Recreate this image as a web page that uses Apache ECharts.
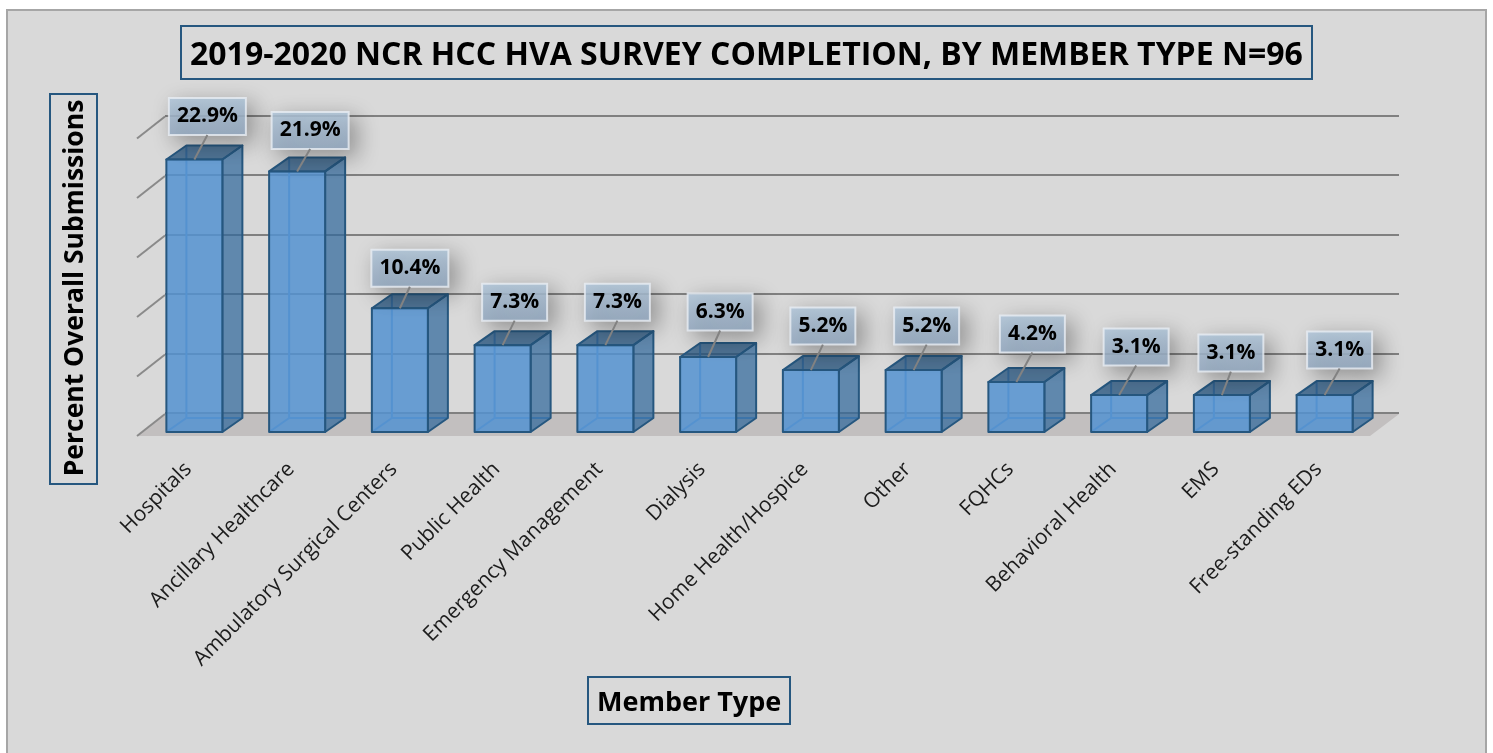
<!DOCTYPE html>
<html>
<head>
<meta charset="utf-8">
<title>HVA survey completion</title>
<script src="https://cdn.jsdelivr.net/npm/echarts@6/dist/echarts.min.js"></script>
<style>
html, body { margin: 0; padding: 0; background: #fff; overflow: hidden; }
#main { width: 1493px; height: 753px; }
</style>
</head>
<body>
<div id="main"></div>
<script>
var categories = ['Hospitals', 'Ancillary Healthcare', 'Ambulatory Surgical Centers', 'Public Health',
	'Emergency Management', 'Dialysis', 'Home Health/Hospice', 'Other', 'FQHCs',
	'Behavioral Health', 'EMS', 'Free-standing EDs'];
var percents = [22.9, 21.9, 10.4, 7.3, 7.3, 6.3, 5.2, 5.2, 4.2, 3.1, 3.1, 3.1];
var axisTicks = [0, 5, 10, 15, 20, 25];

var chartTitle = '2019-2020 NCR HCC HVA SURVEY COMPLETION, BY MEMBER TYPE N=96';
var xTitle = 'Member Type';
var yTitle = 'Percent Overall Submissions';

// callout placement, hand nudged per bar like the original
var calloutDx = [13, 13, 10, 12, 12, 12, 12, 13, 16, 17, 9, 15];
var calloutLift = [43, 41, 40, 43, 43, 45, 44, 44, 48, 48, 42, 45];

var FONT = '"Open Sans", sans-serif';
var EDGE = '#26577f';
var DEPTH_X = 20, DEPTH_Y = 14;   // bar depth
var WALL_X = 28, WALL_Y = 22;     // floor depth
var BAR_W = 56;

function poly(points, fill, stroke) {
	return {
		type: 'polygon',
		shape: {points: points},
		style: {fill: fill, stroke: stroke || 'none', lineWidth: 2, lineJoin: 'round'}
	};
}
function seg(x1, y1, x2, y2, color, w) {
	return {
		type: 'line',
		shape: {x1: x1, y1: y1, x2: x2, y2: y2},
		style: {stroke: color, lineWidth: w}
	};
}

function renderFloor(params, api) {
	var c = params.coordSys;
	var y0 = c.y + c.height;
	return poly([[c.x, y0], [c.x + WALL_X, y0 - WALL_Y], [c.x + c.width + WALL_X + 1, y0 - WALL_Y], [c.x + c.width, y0]], '#c2bfbf');
}

function renderTick(params, api) {
	var c = params.coordSys;
	var y = api.coord([0, api.value(0)])[1];
	return seg(c.x, y, c.x + WALL_X, y - WALL_Y, '#8a8a8a', 2);
}

function barCorner(api) {
	var top = api.coord([api.value(0), api.value(1)]);
	var base = api.coord([api.value(0), 0]);
	return {left: top[0] + 6 - BAR_W / 2, top: top[1] - 4, bottom: base[1] - 4};
}

function renderBar(params, api) {
	var b = barCorner(api);
	var l = b.left, r = l + BAR_W, t = b.top, y = b.bottom;
	var dx = DEPTH_X, dy = DEPTH_Y;
	return {
		type: 'group',
		children: [
			// see-through back edges first
			seg(l + dx, t - dy, l + dx, y - dy, '#5a92cc', 2),
			seg(l, y, l + dx, y - dy, '#5a92cc', 2),
			seg(l + dx, y - dy, r + dx, y - dy, '#5a92cc', 2),
			poly([[r, t], [r + dx, t - dy], [r + dx, y - dy], [r, y]], 'rgba(49,104,155,0.72)', EDGE),
			poly([[l, t], [l + dx, t - dy], [r + dx, t - dy], [r, t]], 'rgba(38,84,127,0.78)', EDGE),
			poly([[l, t], [r, t], [r, y], [l, y]], 'rgba(83,146,208,0.85)', EDGE)
		]
	};
}

function renderCallout(params, api) {
	var i = api.value(0);
	var b = barCorner(api);
	var cx = b.left + BAR_W / 2;
	var text = api.value(1).toFixed(1) + '%';
	var w = text.length > 4 ? 77 : 65;
	var h = 37;
	var bx = cx + calloutDx[i];
	var by = b.top - calloutLift[i];
	return {
		type: 'group',
		children: [
			{
				type: 'rect',
				shape: {x: bx - w / 2, y: by - h / 2, width: w, height: h},
				style: {
					fill: new echarts.graphic.LinearGradient(0, 0, 0, 1, [
						{offset: 0, color: 'rgba(178,200,220,0.85)'},
						{offset: 1, color: 'rgba(150,172,196,0.85)'}
					]),
					stroke: 'rgba(232,238,244,0.8)',
					lineWidth: 2,
					shadowBlur: 22,
					shadowOffsetX: 7,
					shadowOffsetY: 7,
					shadowColor: 'rgba(0,0,0,0.38)'
				}
			},
			seg(cx, b.top, bx, by + h / 2, '#828282', 2),
			{
				type: 'text',
				style: {
					text: text, x: bx, y: by,
					align: 'center', verticalAlign: 'middle',
					font: 'bold 21px ' + FONT, fill: '#000'
				}
			}
		]
	};
}

var seriesData = percents.map(function (v, i) { return [i, v]; });

echarts.init(document.getElementById('main')).setOption({
	animation: false,
	backgroundColor: '#fff',
	title: [
		{
			text: chartTitle, left: 181, top: 26, padding: [14, 9, 7, 9],
			borderColor: EDGE, borderWidth: 2,
			textStyle: {fontFamily: FONT, fontWeight: 'bold', fontSize: 32, color: '#000'}
		},
		{
			text: xTitle, left: 588, top: 677, padding: [13, 9, 7, 9],
			borderColor: EDGE, borderWidth: 2,
			textStyle: {fontFamily: FONT, fontWeight: 'bold', fontSize: 27, color: '#000'}
		}
	],
	graphic: [
		{
			type: 'rect', silent: true, z: -10,
			shape: {x: 7, y: 10, width: 1479, height: 760},
			style: {fill: '#d9d9d9', stroke: '#a6a6a6', lineWidth: 2}
		},
		{
			type: 'rect', silent: true, z: 1,
			shape: {x: 50, y: 94, width: 47, height: 390},
			style: {fill: 'none', stroke: EDGE, lineWidth: 2}
		},
		{
			type: 'text', silent: true, z: 2,
			x: 75, y: 288, rotation: Math.PI / 2,
			style: {
				text: yTitle, align: 'center', verticalAlign: 'middle',
				font: 'bold 26.5px ' + FONT, fill: '#000'
			}
		}
	],
	grid: [
		{left: 165, width: 1234, top: 115.5, height: 297.5},
		{left: 137, width: 1233, top: 138.5, height: 297.5}
	],
	xAxis: [
		{
			type: 'category', gridIndex: 0, data: categories,
			axisLine: {show: false}, axisTick: {show: false}, axisLabel: {show: false}
		},
		{
			type: 'category', gridIndex: 1, data: categories,
			axisLine: {show: false}, axisTick: {show: false},
			axisLabel: {
				interval: 0, rotate: 45, margin: 30,
				fontFamily: FONT, fontSize: 21, color: '#1c1c1c'
			}
		}
	],
	yAxis: [
		{
			type: 'value', gridIndex: 0, min: 0, max: 25, interval: 5,
			axisLine: {show: false}, axisTick: {show: false}, axisLabel: {show: false},
			splitLine: {lineStyle: {color: '#808080', width: 2}}
		},
		{
			type: 'value', gridIndex: 1, min: 0, max: 25, interval: 5,
			axisLine: {show: false}, axisTick: {show: false}, axisLabel: {show: false},
			splitLine: {show: false}
		}
	],
	series: [
		{
			type: 'custom', xAxisIndex: 1, yAxisIndex: 1, z: 2, silent: true,
			renderItem: renderFloor, data: [0]
		},
		{
			type: 'custom', xAxisIndex: 1, yAxisIndex: 1, z: 3, silent: true,
			renderItem: renderTick, encode: {y: 0}, data: axisTicks
		},
		{
			type: 'custom', xAxisIndex: 1, yAxisIndex: 1, z: 4, silent: true,
			renderItem: renderBar, encode: {x: 0, y: 1}, data: seriesData
		},
		{
			type: 'custom', xAxisIndex: 1, yAxisIndex: 1, z: 5, silent: true,
			renderItem: renderCallout, encode: {x: 0, y: 1}, data: seriesData
		}
	]
});
</script>
</body>
</html>
